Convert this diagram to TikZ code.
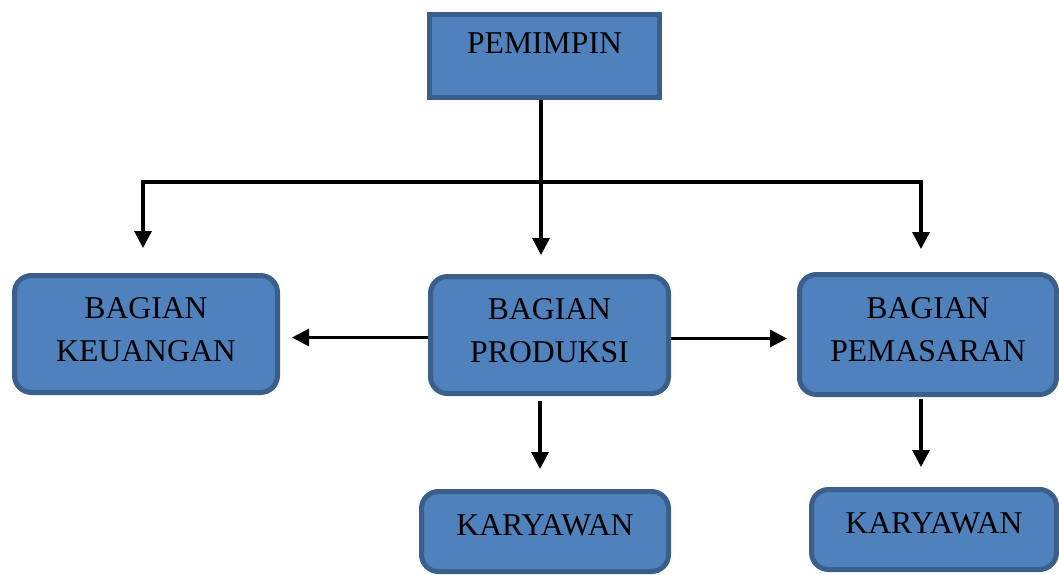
\documentclass[tikz,border=0pt]{standalone}
\usepackage{fontspec}
\setmainfont{Liberation Serif}
\usetikzlibrary{arrows.meta}
\definecolor{boxfill}{HTML}{4F81BD}
\definecolor{boxline}{HTML}{3A5F8B}
\begin{document}
\begin{tikzpicture}[x=1pt,y=-1pt,
  box/.style={draw=boxline, fill=boxfill, line width=5pt, inner sep=0pt, rounded corners=17pt},
  lbl/.style={font=\fontsize{31.7}{43}\selectfont, align=center, inner sep=0pt},
  arr/.style={line width=3.3pt, -{Triangle[width=17pt,length=17pt]}}]
\useasboundingbox (0,0) rectangle (1059,574);
\clip (0,0) rectangle (1059,574);

\node[box, sharp corners, minimum width=230pt, minimum height=83pt,
  label={[lbl,yshift=13pt]center:PEMIMPIN}] (pem) at (544.5,56) {};
\node[box, minimum width=263pt, minimum height=117pt,
  label={[lbl,yshift=4pt]center:BAGIAN\\KEUANGAN}] (keu) at (146,334) {};
\node[box, minimum width=238pt, minimum height=117pt,
  label={[lbl,yshift=4pt]center:BAGIAN\\PRODUKSI}] (prod) at (549.5,335) {};
\node[box, minimum width=257pt, minimum height=120pt,
  label={[lbl,yshift=4.5pt]center:BAGIAN\\PEMASARAN}] (mas) at (928,334.5) {};
\node[box, minimum width=247pt, minimum height=80pt,
  label={[lbl,yshift=6.5pt]center:KARYAWAN}] (kar1) at (545,531.5) {};
\node[box, minimum width=245pt, minimum height=80pt,
  label={[lbl,yshift=6.5pt]center:KARYAWAN}] (kar2) at (934,529.5) {};

\coordinate (jl) at (143,182);
\coordinate (jm) at (541,182);
\coordinate (jr) at (921,182);

\draw[arr, shorten >=19pt] (jm |- pem.south) -- (jm |- prod.north);
\draw[arr, shorten >=25pt] (jm) -- (jl) -- (jl |- keu.north);
\draw[arr, shorten >=23pt] (jm) -- (jr) -- (jr |- mas.north);

\draw[arr, shorten >=12pt] ([yshift=-2.5pt]prod.west) -- ([yshift=-2.5pt]prod.west -| keu.east);
\draw[arr, shorten >=10pt] ([yshift=-3.5pt]prod.east) -- ([yshift=-3.5pt]prod.east -| mas.west);

\draw[arr, shorten <=5pt, shorten >=20pt] ([xshift=-9.5pt]prod.south) -- ([xshift=-9.5pt]prod.south |- kar1.north);
\draw[arr, shorten <=2pt, shorten >=20pt] ([xshift=-7pt]mas.south) -- ([xshift=-7pt]mas.south |- kar2.north);
\end{tikzpicture}
\end{document}
